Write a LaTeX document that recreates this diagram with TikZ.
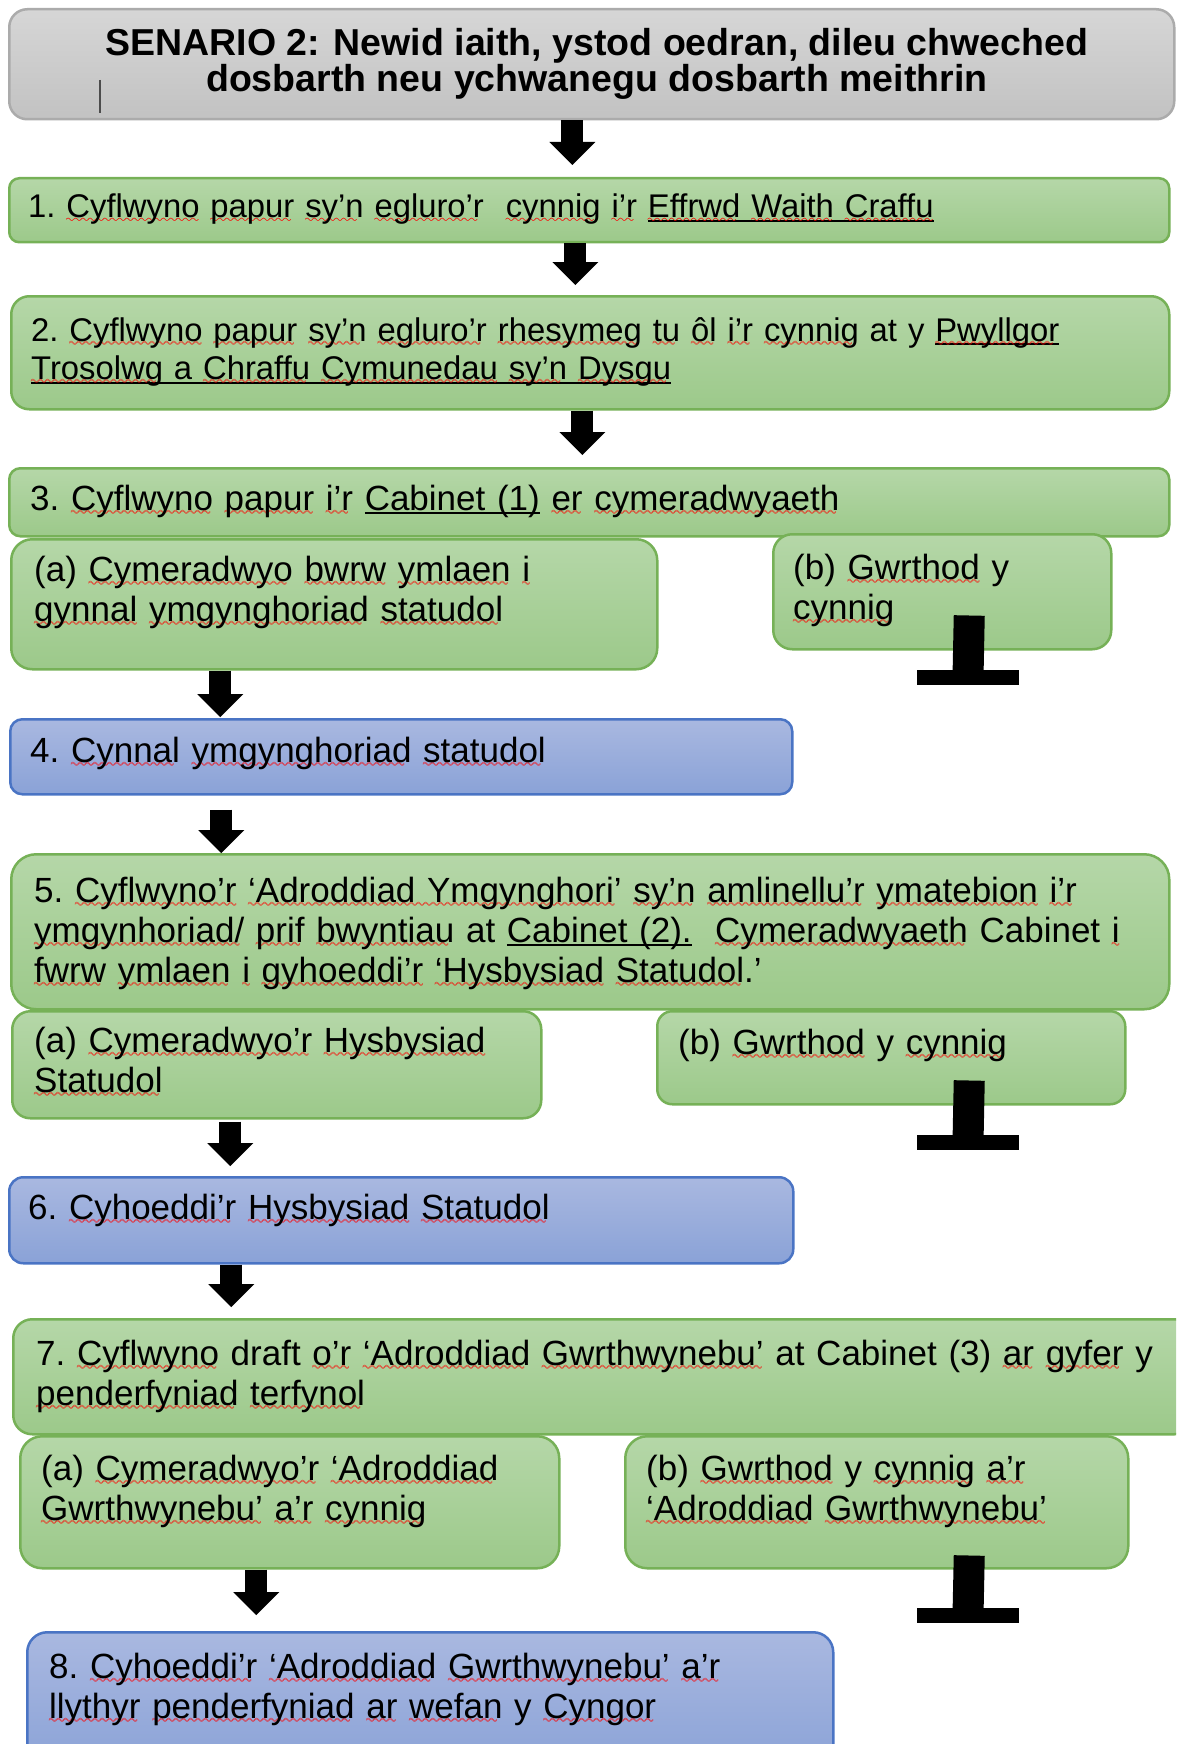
\documentclass[tikz,border=0pt]{standalone}
\usepackage{fontspec}
\setmainfont{Liberation Sans}
\usetikzlibrary{arrows.meta,calc}

\definecolor{greenTop}{HTML}{B5D7A8}
\definecolor{greenBot}{HTML}{9CC98A}
\definecolor{greenLine}{HTML}{76B157}
\definecolor{blueTop}{HTML}{A9B8E0}
\definecolor{blueBot}{HTML}{8AA2D7}
\definecolor{blueLine}{HTML}{4A74C4}
\definecolor{grayTop}{HTML}{D6D6D6}
\definecolor{grayBot}{HTML}{C2C2C2}
\definecolor{grayLine}{HTML}{ABABAB}

% red spelling wave and black underline
\font\wavefont=lasy10 at 11pt
\newsavebox{\wvbox}
\newcommand{\wavefill}{\hbox to \wd\wvbox{\leaders\hbox{\wavefont\char58}\hfill}}
\newcommand{\wv}[1]{\leavevmode\sbox{\wvbox}{#1}\rlap{\textcolor{red}{\raisebox{-5pt}[0pt][0pt]{\rlap{\wavefill}\raisebox{0.7pt}{\wavefill}}}}\usebox{\wvbox}}
\newsavebox{\ulkbox}
\newcommand{\ulk}[1]{\leavevmode\sbox{\ulkbox}{#1}\rlap{\rule[-4pt]{\wd\ulkbox}{2pt}}\usebox{\ulkbox}}

\tikzset{
  stage/.style={draw, line width=2.5pt, anchor=north west, inner sep=0pt},
  greenbox/.style={stage, draw=greenLine, top color=greenTop, bottom color=greenBot},
  bluebox/.style={stage, draw=blueLine, top color=blueTop, bottom color=blueBot},
  graybox/.style={stage, draw=grayLine, top color=grayTop, bottom color=grayBot},
  txt/.style={anchor=base west, inner sep=0pt, text width=1300pt, align=left, font=\frenchspacing\fontsize{35}{40}\selectfont},
  txtsmall/.style={txt, font=\frenchspacing\fontsize{32.8}{38.5}\selectfont},
  flow/.style={line width=22pt, -{Triangle[width=46pt,length=23pt,line width=0pt]}},
  halt/.style={line width=31pt},
  haltbar/.style={line width=15pt}
}

\begin{document}
\begin{tikzpicture}[x=1pt,y=-1pt]
                    \clip (0,0) rectangle (1176,1744);

                    % boxes
                    \node[graybox, minimum width=1165pt, minimum height=110pt, rounded corners=18pt,
                          align=center, font=\bfseries\fontsize{37.5}{33.5}\selectfont] (title) at (8,8)
                          {\hspace*{10pt}SENARIO 2: Newid iaith, ystod oedran, dileu chweched\\\hspace*{10pt}dosbarth neu ychwanegu dosbarth meithrin};
                    \draw[line width=1.5pt, black!70] ([shift={(92,72)}]title.north west) -- ++(0,33);

                    \node[greenbox, minimum width=1160pt, minimum height=64pt, rounded corners=10pt] (s1) at (8,177) {};
                    \node[greenbox, minimum width=1158pt, minimum height=113pt, rounded corners=18pt] (s2) at (10,295) {};
                    \node[greenbox, minimum width=1160pt, minimum height=68pt, rounded corners=11pt] (s3) at (8,467) {};
                    \node[greenbox, minimum width=646pt, minimum height=130pt, rounded corners=21pt] (s3a) at (10,538) {};
                    \node[greenbox, minimum width=338pt, minimum height=115pt, rounded corners=19pt] (s3b) at (772,533) {};
                    \node[bluebox, minimum width=782pt, minimum height=75pt, rounded corners=12pt] (s4) at (9,718) {};
                    \node[greenbox, minimum width=1158pt, minimum height=155pt, rounded corners=25pt] (s5) at (10,853) {};
                    \node[greenbox, minimum width=529pt, minimum height=107pt, rounded corners=18pt] (s5a) at (11,1010) {};
                    \node[greenbox, minimum width=468pt, minimum height=93pt, rounded corners=15pt] (s5b) at (656,1010) {};
                    \node[bluebox, minimum width=784pt, minimum height=86pt, rounded corners=14pt] (s6) at (8,1176) {};
                    \node[greenbox, minimum width=1180pt, minimum height=115pt, rounded corners=19pt] (s7) at (12,1318) {};
                    \node[greenbox, minimum width=539pt, minimum height=132pt, rounded corners=22pt] (s7a) at (19,1435) {};
                    \node[greenbox, minimum width=503pt, minimum height=132pt, rounded corners=22pt] (s7b) at (624,1435) {};
                    \node[bluebox, minimum width=806pt, minimum height=140pt, rounded corners=20pt] (s8) at (26,1631) {};

                    % texts
                    \node[txtsmall] (t1) at ([shift={(20,41)}]s1.north west)
                          {1. \wv{Cyflwyno} \wv{papur} \wv{sy’n} \wv{egluro’r}\ \ \wv{cynnig} \wv{i’r} \ulk{\wv{Effrwd} \wv{Waith} \wv{Craffu}}};
                    \node[txtsmall] (t2) at ([shift={(21,46)}]s2.north west)
                          {2. \wv{Cyflwyno} \wv{papur} \wv{sy’n} \wv{egluro’r} \wv{rhesymeg} \wv{tu} \wv{ôl} \wv{i’r} \wv{cynnig} at y \ulk{\wv{Pwyllgor}}\\
                           \ulk{\wv{Trosolwg} a \wv{Chraffu} \wv{Cymunedau} \wv{sy’n} \wv{Dysgu}}};
                    \node[txt] (t3) at ([shift={(22,43)}]s3.north west)
                          {3. \wv{Cyflwyno} \wv{papur} \wv{i’r} \ulk{Cabinet (1)} \wv{er} \wv{cymeradwyaeth}};
                    \node[txt] (t3a) at ([shift={(24,43)}]s3a.north west)
                          {(a) \wv{Cymeradwyo} \wv{bwrw} \wv{ymlaen} \wv{i}\\ \wv{gynnal} \wv{ymgynghoriad} \wv{statudol}};
                    \node[txt] (t3b) at ([shift={(21,46)}]s3b.north west)
                          {(b) \wv{Gwrthod} y\\ \wv{cynnig}};
                    \node[txt] (t4) at ([shift={(21,44)}]s4.north west)
                          {4. \wv{Cynnal} \wv{ymgynghoriad} \wv{statudol}};
                    \node[txt] (t5) at ([shift={(24,49)}]s5.north west)
                          {5. \wv{Cyflwyno’r} \wv{‘Adroddiad Ymgynghori’} \wv{sy’n} \wv{amlinellu’r} \wv{ymatebion} \wv{i’r}\\
                           \wv{ymgynhoriad/} \wv{prif} \wv{bwyntiau} at \ulk{Cabinet (2).}\ \ \wv{Cymeradwyaeth} Cabinet \wv{i}\\
                           \wv{fwrw} \wv{ymlaen} \wv{i} \wv{gyhoeddi’r} \wv{‘Hysbysiad} \wv{Statudol}.’};
                    \node[txt] (t5a) at ([shift={(23,42)}]s5a.north west)
                          {(a) \wv{Cymeradwyo’r} \wv{Hysbysiad}\\ \wv{Statudol}};
                    \node[txt] (t5b) at ([shift={(22,44)}]s5b.north west)
                          {(b) \wv{Gwrthod} y \wv{cynnig}};
                    \node[txt] (t6) at ([shift={(20,43)}]s6.north west)
                          {6. \wv{Cyhoeddi’r} \wv{Hysbysiad} \wv{Statudol}};
                    \node[txt] (t7) at ([shift={(24,47)}]s7.north west)
                          {7. \wv{Cyflwyno} draft \wv{o’r} \wv{‘Adroddiad} \wv{Gwrthwynebu’} at Cabinet (3) \wv{ar} \wv{gyfer} y\\
                           \wv{penderfyniad} \wv{terfynol}};
                    \node[txt] (t7a) at ([shift={(22,45)}]s7a.north west)
                          {(a) \wv{Cymeradwyo’r} \wv{‘Adroddiad}\\ \wv{Gwrthwynebu’} \wv{a’r} \wv{cynnig}};
                    \node[txt] (t7b) at ([shift={(22,45)}]s7b.north west)
                          {(b) \wv{Gwrthod} y \wv{cynnig} \wv{a’r}\\ \wv{‘Adroddiad} \wv{Gwrthwynebu’}};
                    \node[txt] (t8) at ([shift={(23,47)}]s8.north west)
                          {8. \wv{Cyhoeddi’r} \wv{‘Adroddiad} \wv{Gwrthwynebu’} \wv{a’r}\\
                           \wv{llythyr} \wv{penderfyniad} \wv{ar} \wv{wefan} y \wv{Cyngor}};

                    % block arrows
                    \draw[flow] ([xshift=-19.5pt]title.south) -- ([xshift=-17pt,yshift=12pt]s1.north);
                    \draw[flow] ([xshift=-14pt]s1.south) -- ([xshift=-15pt,yshift=10pt]s2.north);
                    \draw[flow] ([xshift=-8pt]s2.south) -- ([xshift=-7pt,yshift=12pt]s3.north);
                    \draw[flow] ([xshift=-114pt]s3a.south) -- ([xshift=-181pt,yshift=1pt]s4.north);
                    \draw[flow] ([xshift=-180pt,yshift=-14pt]s4.south) -- ([xshift=-369pt]s5.north);
                    \draw[flow] ([xshift=-46.5pt,yshift=-2pt]s5a.south) -- ([xshift=-171pt,yshift=10pt]s6.north);
                    \draw[flow] ([xshift=-170pt]s6.south) -- ([xshift=-372pt,yshift=11pt]s7.north);
                    \draw[flow] ([xshift=-33.5pt]s7a.south) -- ([xshift=-174pt,yshift=16pt]s8.north);

                    % rejections
                    \foreach \b/\dx/\dy/\ey in {s3b/27/35/677, s5b/78/25/1142, s7b/92.5/14/1615}{
                    \coordinate (x\b) at (968,\ey);
                    \draw[halt] ([xshift=\dx pt,yshift=\dy pt]\b.south) -- (x\b);
                    \draw[haltbar] ([xshift=-51pt]x\b) -- ([xshift=51pt]x\b);
                    }
\end{tikzpicture}
\end{document}
